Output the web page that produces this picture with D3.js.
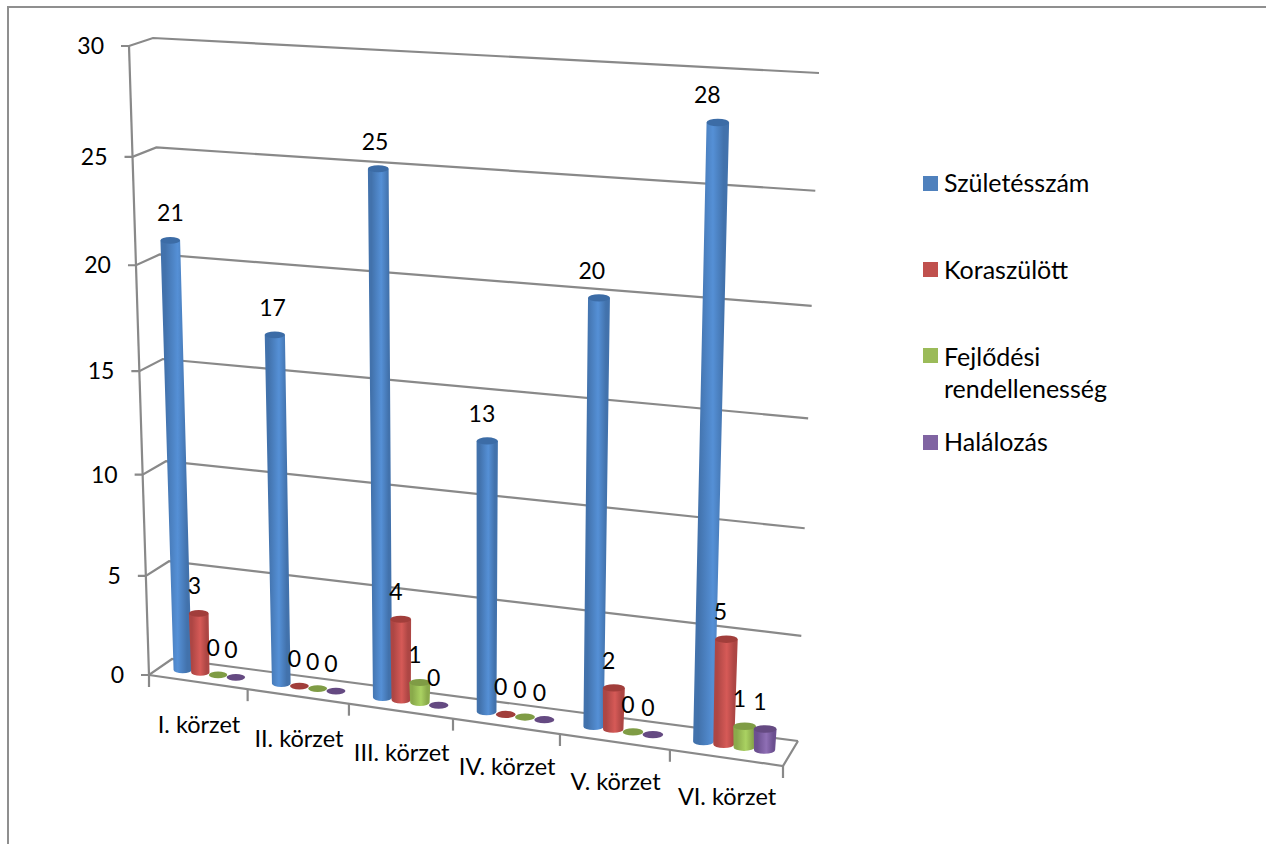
<!DOCTYPE html>
<html lang="hu">
<head>
<meta charset="utf-8">
<title>Születésszám körzetenként</title>
<script src="https://cdn.jsdelivr.net/npm/d3@7/dist/d3.min.js"></script>
<style>
  html, body { margin: 0; padding: 0; background: #fff; overflow: hidden; }
  text { font-family: Lato, "Open Sans", sans-serif; fill: #000; }
</style>
</head>
<body>
<svg id="chart" width="1266" height="844"></svg>
<script>
// Chart values
const categories = ["I. körzet", "II. körzet", "III. körzet", "IV. körzet", "V. körzet", "VI. körzet"];
const seriesNames = ["Születésszám", "Koraszülött", "Fejlődési rendellenesség", "Halálozás"];
const szuletesszam = [21, 17, 25, 13, 20, 28];
const koraszulott = [3, 0, 4, 0, 2, 5];
const fejlodesi = [0, 0, 1, 0, 0, 1];
const halalozas = [0, 0, 0, 0, 0, 1];
const seriesValues = [szuletesszam, koraszulott, fejlodesi, halalozas];
const valueTicks = [0, 5, 10, 15, 20, 25, 30];

// Series palette: side shading stops, top cap, legend swatch
const palette = [
  { dark: "#4272ac", mid: "#5590d6", cap: "#3c6ca6", key: "#4f81bd" },
  { dark: "#ad4644", mid: "#d65a57", cap: "#a13e3b", key: "#c0504d" },
  { dark: "#8aaa4b", mid: "#aad262", cap: "#7f9c45", key: "#9bbb59" },
  { dark: "#6c5090", mid: "#8f6fb5", cap: "#654a82", key: "#8064a2" }
];

const svg = d3.select("#chart");
const gridColor = "#898989";

// Outer chart frame
svg.append("path")
  .attr("d", "M8,844V7H1266")
  .attr("fill", "none").attr("stroke", "#8f8f8f").attr("stroke-width", 2);

// Box corners of the 3-D plot: [left/right][front/back][floor/ceiling]
const corners = {
  lfb: [149, 675], lft: [129, 46], lbb: [172, 659], lbt: [153, 38],
  rfb: [783, 766], rft: [804, 88], rbb: [798, 741], rbt: [819, 73]
};
const mix = (a, b, t) => [a[0] + (b[0] - a[0]) * t, a[1] + (b[1] - a[1]) * t];

// Foreshortening along the width and height of the box
const warp = k => t => t / (t + (1 - t) * k);
const widthWarp = warp(1.0855);
const heightWarp = warp(1.07);

const y = d3.scaleLinear().domain([0, 30]).range([0, 1]);
const band = d3.scaleBand().domain(categories).range([0, 1]);

// u: 0..1 across the categories, depth: 0 front..1 back, value: data units
function project(u, depth, value) {
  const tu = widthWarp(u), th = heightWarp(y(value));
  const left = mix(mix(corners.lfb, corners.lbb, depth), mix(corners.lft, corners.lbt, depth), th);
  const right = mix(mix(corners.rfb, corners.rbb, depth), mix(corners.rft, corners.rbt, depth), th);
  return mix(left, right, tu);
}

// Cylinder shading gradients
const defs = svg.append("defs");
palette.forEach((c, i) => {
  const g = defs.append("linearGradient").attr("id", "cyl" + i);
  [[0, c.dark], [0.15, c.dark], [0.55, c.mid], [0.85, c.dark], [1, c.dark]].forEach(([o, col]) =>
    g.append("stop").attr("offset", o).attr("stop-color", col));
});

// Walls and floor
const grid = svg.append("g").attr("fill", "none").attr("stroke", gridColor).attr("stroke-width", 2.2);
const line = d3.line();
valueTicks.forEach(v => {
  const fl = project(0, 0, v), bl = project(0, 1, v), br = project(1, 1, v);
  grid.append("path").attr("d", line([[fl[0] - 8, fl[1]], fl, bl, br]));
});
grid.append("path").attr("d", line([project(0, 0, 0), project(0, 0, 30)]));
grid.append("path").attr("d", line([project(0, 0, 0), project(1, 0, 0), project(1, 1, 0)]));

// Category tick marks along the front floor edge
d3.range(categories.length + 1).forEach(i => {
  const p = project(i / categories.length, 0, 0);
  grid.append("path").attr("d", line([p, [p[0], p[1] + 12]]));
});

// Value axis labels
const labels = svg.append("g").attr("font-size", 23);
valueTicks.forEach(v => {
  const p = project(0, 0, v);
  labels.append("text").attr("x", p[0] - 25).attr("y", p[1] + 8)
    .attr("text-anchor", "end").text(v);
});

// Category labels, centred under each floor section
categories.forEach(c => {
  const mid = band(c) + band.bandwidth() / 2;
  const p = project(mid, 0, 0);
  labels.append("text").attr("x", p[0] + 1).attr("y", p[1] + 51.5 - 5 * mid)
    .attr("font-size", 23.5).attr("text-anchor", "middle").text(c);
});

// Cylinders
const seriesStep = 0.181;
const depth = 0.5;
const capRatio = 0.36;
const marks = svg.append("g");
const valueLabels = svg.append("g").attr("font-size", 23);

categories.forEach((c, ci) => {
  seriesNames.forEach((s, si) => {
    const v = seriesValues[si][ci];
    const u = band(c) + band.bandwidth() * (0.5 + (si - 1.5) * seriesStep);
    const half = band.bandwidth() * 0.187 / 2;
    const base = project(u, depth, 0), top = project(u, depth, v);
    const rx = (project(u + half, depth, 0)[0] - project(u - half, depth, 0)[0]) / 2;
    const ry = rx * capRatio;
    const topRx = rx * 1.08;
    if (v > 0) {
      marks.append("path")
        .attr("d", `M${top[0] - topRx},${top[1]}L${base[0] - rx},${base[1]}` +
          `A${rx},${ry} 0 0 0 ${base[0] + rx},${base[1]}L${top[0] + topRx},${top[1]}Z`)
        .attr("fill", `url(#cyl${si})`);
    }
    marks.append("ellipse")
      .attr("cx", top[0]).attr("cy", top[1]).attr("rx", v > 0 ? topRx : rx).attr("ry", ry)
      .attr("fill", palette[si].cap);

    // Value label sits above the cap, drifting with height across the plot
    const drift = -5 + y(v) * (8 - 16 * u);
    valueLabels.append("text")
      .attr("x", top[0] + drift).attr("y", top[1] - 19)
      .attr("text-anchor", "middle").text(v);
  });
});

// Legend
const legendRows = [
  { lines: ["Születésszám"], swatch: 184, text: 192 },
  { lines: ["Koraszülött"], swatch: 270, text: 279 },
  { lines: ["Fejlődési", "rendellenesség"], swatch: 356, text: 366 },
  { lines: ["Halálozás"], swatch: 443, text: 451 }
];
const legend = svg.append("g").attr("font-size", 25);
legendRows.forEach((row, i) => {
  legend.append("rect").attr("x", 923).attr("y", row.swatch - 8).attr("width", 15).attr("height", 15)
    .attr("fill", palette[i].key);
  row.lines.forEach((t, j) => {
    legend.append("text").attr("x", 944).attr("y", row.text + j * 32).text(t);
  });
});
</script>
</body>
</html>
